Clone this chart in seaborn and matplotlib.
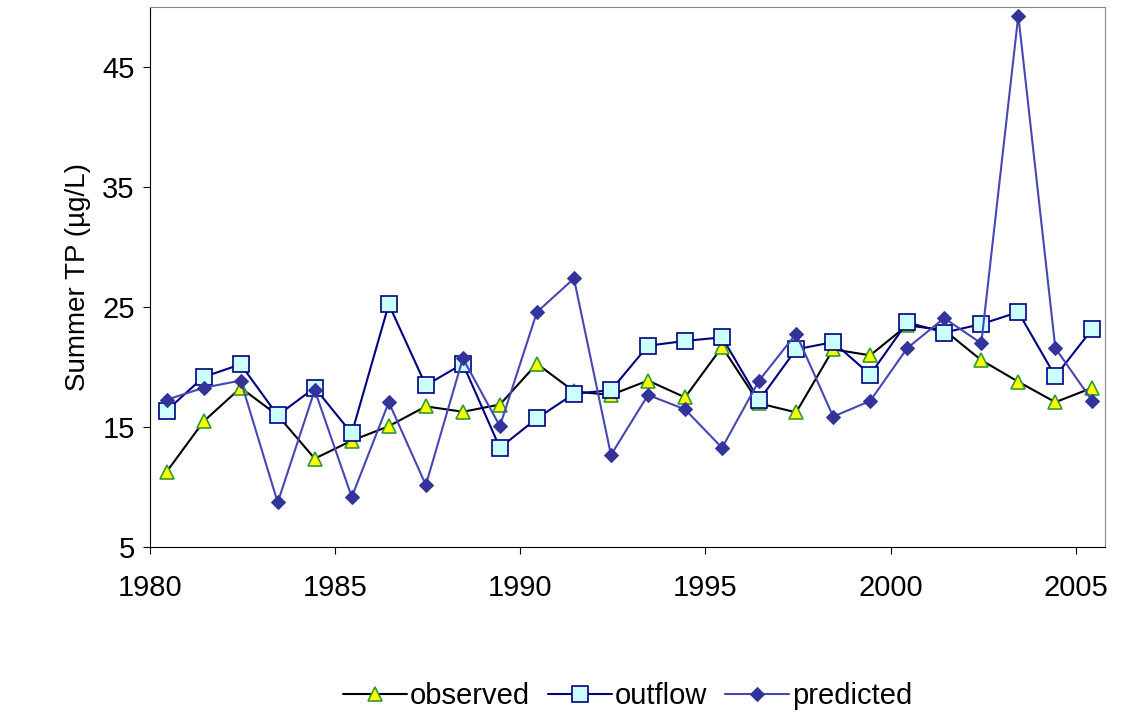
import numpy as np
import pandas as pd
import seaborn as sns
import matplotlib.pyplot as plt

# 연도 (각 해의 중간 위치에 점을 찍는다)
years = np.arange(1980, 2006)
observed = [11.3, 15.5, 18.3, 16.0, 12.4, 13.9, 15.1, 16.75, 16.3, 16.9, 20.3, 18.0, 17.7,
            18.9, 17.5, 21.7, 17.0, 16.25, 21.5, 21.0, 23.5, 23.1, 20.6, 18.8, 17.1, 18.3]
outflow = [16.4, 19.2, 20.25, 16.0, 18.3, 14.5, 25.25, 18.5, 20.3, 13.3, 15.75, 17.8, 18.1,
           21.8, 22.2, 22.5, 17.25, 21.5, 22.1, 19.4, 23.75, 22.9, 23.6, 24.6, 19.25, 23.2]
predicted = [17.3, 18.3, 18.9, 8.75, 18.1, 9.2, 17.1, 10.2, 20.75, 15.1, 24.6, 27.4, 12.7,
             17.7, 16.5, 13.3, 18.9, 22.8, 15.9, 17.2, 21.6, 24.1, 22.0, 49.3, 21.6, 17.2]

sns.set_style('white')
plt.rcParams['font.family'] = ['Liberation Sans', 'DejaVu Sans']
plt.rcParams['text.color'] = 'black'
plt.rcParams['xtick.color'] = 'black'
plt.rcParams['ytick.color'] = 'black'
plt.rcParams['axes.labelcolor'] = 'black'

df = pd.DataFrame({'x': years + 0.45, 'observed': observed,
                   'outflow': outflow, 'predicted': predicted})

fig, ax = plt.subplots(figsize=(11.36, 7.11), dpi=100)
sns.lineplot(data=df, x='x', y='observed', ax=ax, color='black', lw=1.5,
             marker='^', markersize=10, markerfacecolor='#ffff00',
             markeredgecolor='#339933', markeredgewidth=1.2, label='observed')
sns.lineplot(data=df, x='x', y='outflow', ax=ax, color='#000080', lw=1.5,
             marker='s', markersize=11, markerfacecolor='#ccffff',
             markeredgecolor='#000080', markeredgewidth=1.2, label='outflow')
sns.lineplot(data=df, x='x', y='predicted', ax=ax, color='#4646b4', lw=1.5,
             marker='D', markersize=7, markerfacecolor='#333399',
             markeredgecolor='#333399', label='predicted')

ax.set_xlim(1980, 2005.8)
ax.set_ylim(5, 50)
ax.set_xticks(range(1980, 2006, 5))
ax.set_yticks([5, 15, 25, 35, 45])
ax.tick_params(axis='both', labelsize=21, direction='out', length=5, left=True, bottom=True)
ax.tick_params(axis='x', pad=14)
ax.tick_params(axis='y', pad=6)
ax.set_xlabel('')
ax.set_ylabel('Summer TP (µg/L)', fontsize=20, labelpad=8)
for s in ['left', 'bottom']:
    ax.spines[s].set_color('black')
for s in ['top', 'right']:
    ax.spines[s].set_color('#888888')
ax.legend(loc='upper center', bbox_to_anchor=(0.5, -0.2), ncol=3, frameon=False,
          fontsize=21, handlelength=2.2, columnspacing=0.6, handletextpad=0.1)

plt.subplots_adjust(left=0.132, right=0.973, top=0.99, bottom=0.23)
fig.savefig('out.png')
